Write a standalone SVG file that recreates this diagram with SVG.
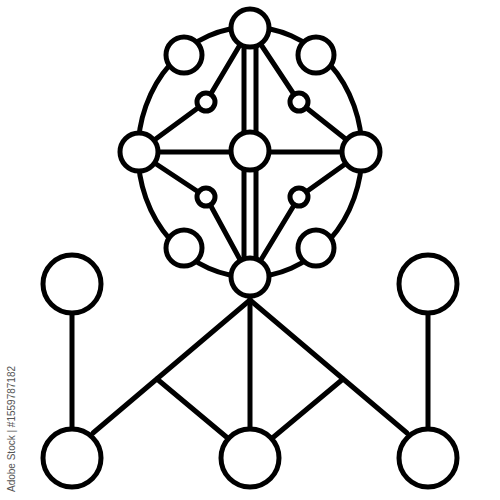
<svg xmlns="http://www.w3.org/2000/svg" width="500" height="500" viewBox="0 0 500 500">
<style>
.l{fill:none;stroke:#000;stroke-width:5;stroke-linecap:round;stroke-linejoin:round}
.n{fill:#fff;stroke:#000;stroke-width:5}
.wm{font-family:"Liberation Sans",Arial,sans-serif;font-size:10px;fill:#555}
</style>
<rect width="500" height="500" fill="#fff"/>
<g id="connectors">
<ellipse class="l" cx="250" cy="152" rx="112" ry="125"/>
<line class="l" x1="244" y1="28" x2="244" y2="278"/>
<line class="l" x1="256" y1="28" x2="256" y2="278"/>
<line class="l" x1="138" y1="152" x2="362" y2="152"/>
<polyline class="l" points="250,28 206,102 138,152"/>
<polyline class="l" points="250,28 299,102 362,152"/>
<polyline class="l" points="250,278 206,197 138,152"/>
<polyline class="l" points="250,278 299,197 362,152"/>
<line class="l" x1="72" y1="283" x2="72" y2="458"/>
<line class="l" x1="428" y1="283" x2="428" y2="458"/>
<line class="l" x1="250" y1="278" x2="250" y2="458"/>
<line class="l" x1="250" y1="300" x2="93" y2="433"/>
<line class="l" x1="250" y1="300" x2="407" y2="433"/>
<line class="l" x1="157" y1="379" x2="230" y2="440"/>
<line class="l" x1="343" y1="379" x2="270" y2="440"/>
</g>
<g id="top"><circle class="n" cx="250" cy="28" r="19"/></g>
<g id="top-left"><circle class="n" cx="184" cy="55" r="18"/></g>
<g id="top-right"><circle class="n" cx="316" cy="55" r="18"/></g>
<g id="left"><circle class="n" cx="139" cy="152" r="19"/></g>
<g id="right"><circle class="n" cx="361" cy="152" r="19"/></g>
<g id="center"><circle class="n" cx="250" cy="151" r="19"/></g>
<g id="small-tl"><circle class="n" cx="206" cy="102" r="9"/></g>
<g id="small-tr"><circle class="n" cx="299" cy="102" r="9"/></g>
<g id="small-bl"><circle class="n" cx="206" cy="197" r="9"/></g>
<g id="small-br"><circle class="n" cx="299" cy="197" r="9"/></g>
<g id="bottom-left-arc"><circle class="n" cx="184" cy="248" r="18"/></g>
<g id="bottom-right-arc"><circle class="n" cx="316" cy="248" r="18"/></g>
<g id="bottom"><circle class="n" cx="250" cy="277" r="19"/></g>
<g id="upper-left"><circle class="n" cx="72" cy="284" r="29"/></g>
<g id="upper-right"><circle class="n" cx="428" cy="284" r="29"/></g>
<g id="lower-left"><circle class="n" cx="72" cy="458" r="29"/></g>
<g id="lower-middle"><circle class="n" cx="250" cy="458" r="29"/></g>
<g id="lower-right"><circle class="n" cx="428" cy="458" r="29"/></g>
<text class="wm" transform="translate(15,492) rotate(-90)">Adobe Stock | #1559787182</text>
</svg>
